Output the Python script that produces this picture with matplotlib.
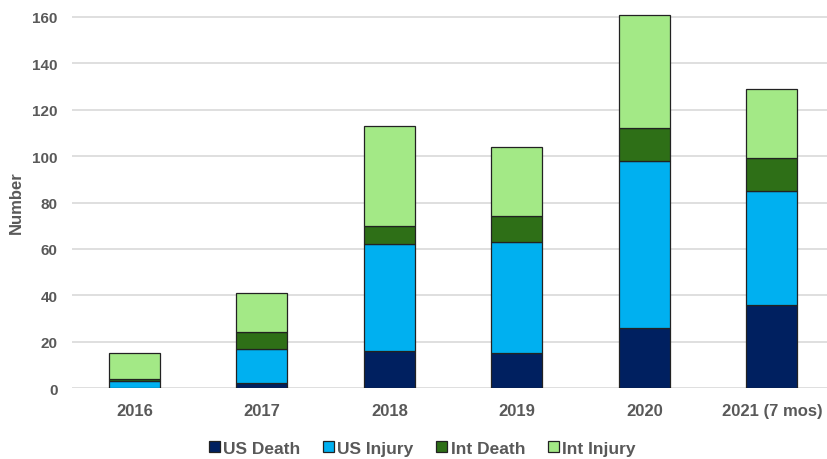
import matplotlib.pyplot as plt
import numpy as np

years = ['2016', '2017', '2018', '2019', '2020', '2021 (7 mos)']
us_death = [0, 2, 16, 15, 26, 36]
us_injury = [3, 15, 46, 48, 72, 49]
int_death = [1, 7, 8, 11, 14, 14]
int_injury = [11, 17, 43, 30, 49, 30]

series = [('US Death', us_death, '#002060'),
          ('US Injury', us_injury, '#00B0F0'),
          ('Int Death', int_death, '#2E6F17'),
          ('Int Injury', int_injury, '#A3E986')]

plt.rcParams['font.family'] = ['Liberation Sans', 'DejaVu Sans']
grey = '#595959'

fig = plt.figure(figsize=(8.28, 4.6), dpi=100)
ax = fig.add_axes([0.087, 0.1543, 0.913, 0.8167])

x = np.arange(len(years))
bottom = np.zeros(len(years))
for name, vals, col in series:
    ax.bar(x, vals, 0.40, bottom=bottom, color=col, edgecolor='#222222',
           linewidth=0.9, label=name, zorder=3)
    bottom += np.array(vals)

ax.set_ylim(0, 162)
ax.set_xlim(-0.49, 5.44)
ax.set_yticks(range(0, 161, 20))
ax.set_xticks(x)
ax.set_xticklabels(years)
ax.grid(axis='y', color='#d9d9d9', linewidth=1.2, zorder=0)
for s in ax.spines.values():
    s.set_visible(False)
ax.tick_params(length=0, labelcolor=grey)
ax.tick_params(axis='y', labelsize=11, pad=10.5)
ax.tick_params(axis='x', labelsize=12, pad=11)
for lab in ax.get_xticklabels() + ax.get_yticklabels():
    lab.set_fontweight('bold')
fig.text(16 / 828, 1 - 203 / 460, 'Number', rotation=90, va='center',
         ha='center', fontsize=12, fontweight='bold', color=grey)

leg = fig.legend(loc='center', bbox_to_anchor=(0.51, 0.023), ncol=4,
                 frameon=False, handlelength=0.63, handleheight=0.63,
                 handletextpad=0.2, columnspacing=1.3,
                 prop={'weight': 'bold', 'size': 12.5})
for t in leg.get_texts():
    t.set_color(grey)

plt.savefig('out.png')
